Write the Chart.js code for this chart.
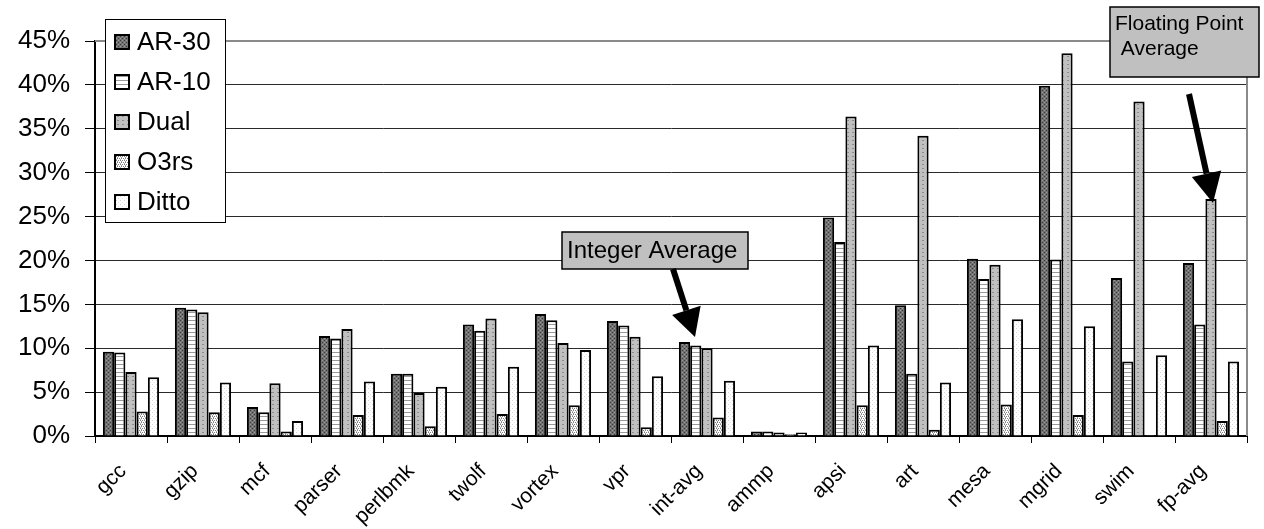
<!DOCTYPE html>
<html lang="en">
<head>
    <meta charset="UTF-8">
    <title>Benchmark overhead</title>
    <script src="https://cdn.jsdelivr.net/npm/chart.js"></script>
    <style>
        body { margin: 0; background: #ffffff; }
        #chart { display: block; }
    </style>
</head>
<body>
    <canvas id="chart" width="1264" height="529"></canvas>

    <script>
        // benchmarks on the x axis
        const benchmarks = ['gcc', 'gzip', 'mcf', 'parser', 'perlbmk', 'twolf', 'vortex', 'vpr', 'int-avg',
            'ammp', 'apsi', 'art', 'mesa', 'mgrid', 'swim', 'fp-avg'];

        // series values, in percent
        const ar30  = [9.6, 14.6, 3.3, 11.4, 7.1, 12.7, 13.9, 13.1, 10.7, 0.5, 24.9, 14.9, 20.2, 39.9, 18.0, 19.7];
        const ar10  = [9.5, 14.4, 2.7, 11.1, 7.1, 12.0, 13.2, 12.6, 10.3, 0.5, 22.1, 7.1, 17.9, 20.1, 8.5, 12.7];
        const dual  = [7.3, 14.1, 6.0, 12.2, 4.9, 13.4, 10.6, 11.3, 10.0, 0.4, 36.4, 34.2, 19.5, 43.6, 38.1, 27.0];
        const o3rs  = [2.8, 2.7, 0.5, 2.4, 1.1, 2.5, 3.5, 1.0, 2.1, 0.2, 3.5, 0.7, 3.6, 2.4, 0.1, 1.7];
        const ditto = [6.7, 6.1, 1.7, 6.2, 5.6, 7.9, 9.8, 6.8, 6.3, 0.4, 10.3, 6.1, 13.3, 12.5, 9.2, 8.5];

        const seriesNames = ['AR-30', 'AR-10', 'Dual', 'O3rs', 'Ditto'];
        const yTicks = [0, 5, 10, 15, 20, 25, 30, 35, 40, 45];

        // little bitmap fills, like the old office chart patterns
        function makePattern(w, h, base, dots) {
            const c = document.createElement('canvas');
            c.width = w;
            c.height = h;
            const g = c.getContext('2d');
            g.fillStyle = base;
            g.fillRect(0, 0, w, h);
            dots.forEach(d => {
                g.fillStyle = d[2];
                g.fillRect(d[0], d[1], d[3] || 1, 1);
            });
            return g.createPattern(c, 'repeat');
        }

        const ctx = document.getElementById('chart').getContext('2d');

        const fills = [
            makePattern(4, 4, '#727272', [[0, 0, '#383838'], [2, 2, '#383838'], [2, 0, '#9a9a9a'], [0, 2, '#9a9a9a']]),
            makePattern(4, 4, '#ffffff', [[0, 0, '#9a9a9a', 4]]),
            makePattern(5, 4, '#c0c0c0', [[2, 0, '#8c8c8c', 2]]),
            makePattern(4, 4, '#ffffff', [[0, 0, '#808080'], [2, 0, '#808080'], [1, 1, '#9a9a9a'], [3, 1, '#ffffff'],
                [1, 2, '#808080'], [3, 2, '#808080'], [0, 3, '#b0b0b0'], [2, 3, '#ffffff']]),
            makePattern(4, 4, '#ffffff', [[0, 0, '#d4d4d4'], [2, 2, '#e4e4e4']])
        ];

        const seriesData = [ar30, ar10, dual, o3rs, ditto];

        // legend box, callouts and plot frame
        const decorations = {
            id: 'decorations',
            afterDraw(chart) {
                const c = chart.ctx;
                const area = chart.chartArea;
                c.save();

                // gray frame on top and right
                c.strokeStyle = '#8a8a8a';
                c.lineWidth = 2;
                c.beginPath();
                c.moveTo(area.left, area.top);
                c.lineTo(area.right, area.top);
                c.lineTo(area.right, area.bottom);
                c.stroke();

                // legend
                c.fillStyle = '#ffffff';
                c.fillRect(105, 19, 120, 203);
                c.strokeStyle = '#000000';
                c.lineWidth = 1;
                c.strokeRect(105.5, 19.5, 120, 203);
                c.font = '26px "Liberation Sans", Arial, sans-serif';
                c.textBaseline = 'middle';
                chart.data.datasets.forEach((ds, i) => {
                    const y = 42 + i * 40;
                    c.fillStyle = ds.backgroundColor;
                    c.fillRect(114, y - 8, 16, 16);
                    c.lineWidth = 2;
                    c.strokeStyle = '#000000';
                    c.strokeRect(115, y - 7, 14, 14);
                    c.fillStyle = '#000000';
                    c.fillText(ds.label, 137, y + 1);
                });

                // callouts
                function callout(x, y, w, h, lines, size, lineX) {
                    c.fillStyle = '#c0c0c0';
                    c.fillRect(x, y, w, h);
                    c.strokeStyle = '#000000';
                    c.lineWidth = 1.5;
                    c.strokeRect(x, y, w, h);
                    c.fillStyle = '#000000';
                    c.font = size + 'px "Liberation Sans", Arial, sans-serif';
                    c.textBaseline = 'alphabetic';
                    lines.forEach((t, i) => c.fillText(t[0], x + t[1], y + lineX + i * size * 1.2));
                }

                function arrow(x1, y1, x2, y2, head, half) {
                    const a = Math.atan2(y2 - y1, x2 - x1);
                    const bx = x2 - head * Math.cos(a);
                    const by = y2 - head * Math.sin(a);
                    c.strokeStyle = '#000000';
                    c.lineWidth = 6;
                    c.beginPath();
                    c.moveTo(x1, y1);
                    c.lineTo(bx, by);
                    c.stroke();
                    c.fillStyle = '#000000';
                    c.beginPath();
                    c.moveTo(x2, y2);
                    c.lineTo(bx + half * Math.sin(a), by - half * Math.cos(a));
                    c.lineTo(bx - half * Math.sin(a), by + half * Math.cos(a));
                    c.closePath();
                    c.fill();
                }

                callout(562, 232, 186, 37, [['Integer Average', 5]], 24, 26);
                arrow(673, 269, 695, 337, 28, 15);

                callout(1110, 7, 149, 70, [['Floating Point', 5], [' Average', 5]], 21, 23);
                arrow(1189, 94, 1213, 203, 30, 15);

                c.restore();
            }
        };

        new Chart(ctx, {
            type: 'bar',
            data: {
                labels: benchmarks,
                datasets: seriesData.map((vals, i) => ({
                    label: seriesNames[i],
                    data: vals,
                    backgroundColor: fills[i],
                    borderColor: '#000000',
                    borderWidth: 2,
                    categoryPercentage: 0.78,
                    barPercentage: 1.0
                }))
            },
            options: {
                responsive: false,
                animation: false,
                layout: { padding: { top: 41, right: 17, left: 0, bottom: 0 } },
                plugins: {
                    legend: { display: false },
                    tooltip: { enabled: false }
                },
                scales: {
                    x: {
                        afterFit: s => { s.height = 93; },
                        grid: {
                            offset: true,
                            drawOnChartArea: false,
                            tickLength: 7,
                            tickColor: '#000000'
                        },
                        border: { color: '#000000', width: 2 },
                        ticks: {
                            autoSkip: false,
                            maxRotation: 45,
                            minRotation: 45,
                            padding: 16,
                            labelOffset: -8,
                            color: '#000000',
                            font: { family: '"Liberation Sans", Arial, sans-serif', size: 21 }
                        }
                    },
                    y: {
                        min: 0,
                        max: 45,
                        afterFit: s => { s.width = 95; },
                        afterBuildTicks: s => { s.ticks = yTicks.map(v => ({ value: v })); },
                        grid: {
                            color: c => (c.tick && c.tick.value === 45) ? '#8a8a8a' : '#2a2a2a',
                            lineWidth: 1,
                            tickLength: 10,
                            tickColor: '#000000'
                        },
                        border: { color: '#000000', width: 2 },
                        ticks: {
                            padding: 15,
                            color: '#000000',
                            font: { family: '"Liberation Sans", Arial, sans-serif', size: 26 },
                            callback: v => v + '%'
                        }
                    }
                }
            },
            plugins: [decorations]
        });
    </script>
</body>
</html>
